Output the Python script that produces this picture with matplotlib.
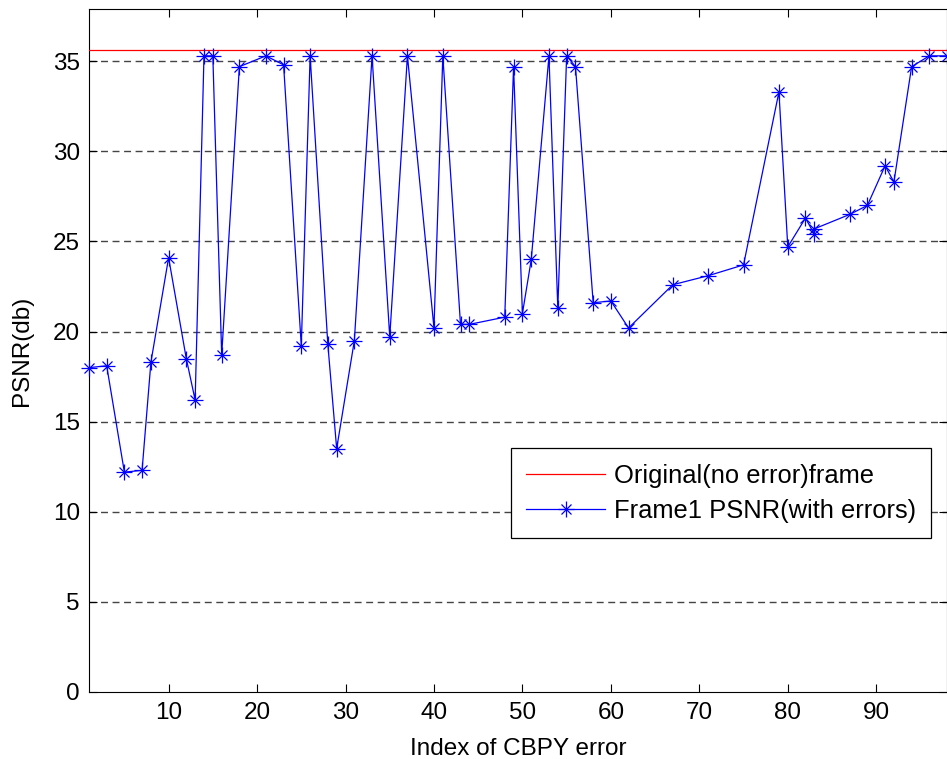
import matplotlib
matplotlib.use("Agg")
import matplotlib.pyplot as plt
from matplotlib.legend_handler import HandlerTuple

plt.rcParams['font.family'] = ['Liberation Sans', 'DejaVu Sans']

# Data
error_index = [1, 3, 5, 7, 8, 10, 12, 13, 14, 15, 16, 18, 21, 23, 25, 26, 28, 29, 31, 33,
               35, 37, 40, 41, 43, 44, 48, 49, 50, 51, 53, 54, 55, 56, 58, 60, 62, 67, 71, 75,
               79, 80, 82, 83, 83, 87, 89, 91, 92, 94, 96, 98]
psnr_errors = [18.0, 18.1, 12.2, 12.3, 18.3, 24.1, 18.5, 16.2, 35.3, 35.3, 18.7, 34.7, 35.3, 34.8,
               19.2, 35.3, 19.3, 13.5, 19.5, 35.3, 19.7, 35.3, 20.2, 35.3, 20.4, 20.4, 20.8, 34.7,
               21.0, 24.0, 35.3, 21.3, 35.3, 34.7, 21.6, 21.7, 20.2, 22.6, 23.1, 23.7, 33.3, 24.7,
               26.3, 25.4, 25.7, 26.5, 27.0, 29.2, 28.3, 34.7, 35.3, 35.3]
original_x = [1, 98]
original_psnr = [35.6, 35.6]
y_ticks = [0, 5, 10, 15, 20, 25, 30, 35]
x_ticks = [10, 20, 30, 40, 50, 60, 70, 80, 90]

W, H = 947, 759
fig = plt.figure(figsize=(W / 100, H / 100), dpi=100)
left, right, top, bottom = 89, 947, 9, 692
ax = fig.add_axes([left / W, (H - bottom) / H, (right - left) / W, (bottom - top) / H])

fs = 17.5
lfs = 18.4

red, = ax.plot(original_x, original_psnr, color='red', lw=0.9, zorder=3)
blue, = ax.plot(error_index, psnr_errors, color='blue', lw=0.9, marker='+',
                markersize=11.5, markeredgewidth=0.9, clip_on=False, zorder=4)
bluex, = ax.plot(error_index, psnr_errors, color='blue', lw=0, marker='x',
                 markersize=7.5, markeredgewidth=0.9, clip_on=False, zorder=4)

ax.set_xlim(1, 98)
ax.set_ylim(0, 37.9)
ax.set_xticks(x_ticks)
ax.set_yticks(y_ticks)
ax.tick_params(direction='in', length=5.5, width=0.8, labelsize=fs, top=True, right=True,
               pad=7, colors='black')
ax.tick_params(axis='y', pad=6.5)

for yv in y_ticks[1:]:
    ax.axhline(yv, color='#444444', lw=1.0, dashes=(5, 3.3), zorder=1)

for s in ax.spines.values():
    s.set_linewidth(0.8)
    s.set_color('black')

ax.set_xlabel('Index of CBPY error', fontsize=fs, labelpad=10)
ax.set_ylabel('PSNR(db)', fontsize=fs, labelpad=14)

leg = ax.legend([red, (blue, bluex)],
                ['Original(no error)frame', 'Frame1 PSNR(with errors)'],
                handler_map={tuple: HandlerTuple(ndivide=1, pad=0)},
                loc='upper left', bbox_to_anchor=((510.7 - left) / (right - left), (bottom - 448.3) / (bottom - top)),
                borderaxespad=0, fontsize=lfs, frameon=True, fancybox=False,
                edgecolor='black', handlelength=3.1, handletextpad=0.33,
                labelspacing=0.45, borderpad=0.6)
leg.get_frame().set_linewidth(0.9)
leg.get_frame().set_alpha(1)

fig.savefig('out.png', dpi=100, facecolor='white')
